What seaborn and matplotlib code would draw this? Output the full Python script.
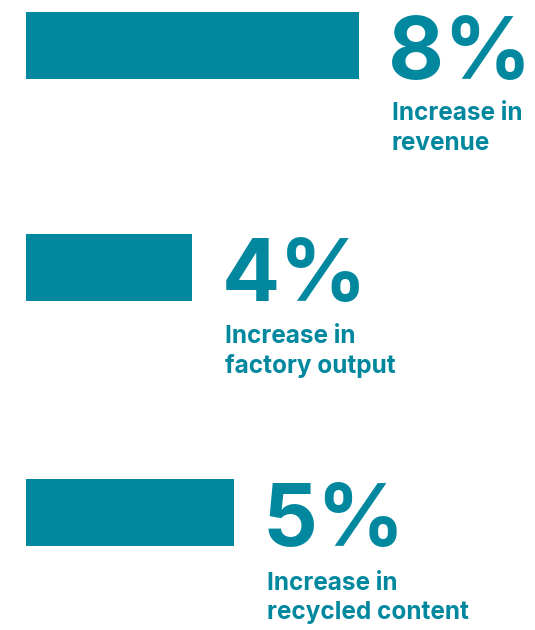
import matplotlib
matplotlib.use("Agg")
import matplotlib.pyplot as plt
import seaborn as sns

# Growth figures shown as horizontal bars with big value callouts
metrics = ["revenue", "factory output", "recycled content"]
values = [8, 4, 5]
caption_lines = [["Increase in", "revenue"],
                 ["Increase in", "factory output"],
                 ["Increase in", "recycled content"]]

TEAL = "#01889F"
W, H = 535, 630
DPI = 100
PT = 72 / DPI  # points per pixel

sns.set_theme(style="white")
plt.rcParams["font.family"] = ["Inter", "DejaVu Sans"]

fig = plt.figure(figsize=(W / DPI, H / DPI), dpi=DPI)
fig.patch.set_facecolor("white")

px_per_unit = 41.6          # horizontal scale, pixels per percentage point
left_px = 26
bar_h_px = 67
bar_tops_px = [12, 234, 479]  # vertical placement of each row
caption_gap_px = [41, 42, 44]

for metric, val, lines, top, gap in zip(metrics, values, caption_lines,
                                        bar_tops_px, caption_gap_px):
    ax = fig.add_axes([left_px / W, 1 - (top + bar_h_px) / H,
                       (W - left_px) / W, bar_h_px / H])
    sns.barplot(x=[val], y=[metric], orient="h", color=TEAL,
                saturation=1, width=1.0, ax=ax)
    ax.set_xlim(0, (W - left_px) / px_per_unit)
    ax.set_ylim(0.5, -0.5)
    ax.axis("off")
    for p in ax.patches:
        p.set_edgecolor("none")

    # big value, baseline at bar bottom
    ax.annotate(f"{val}%", xy=(val, 0.5), xycoords="data",
                xytext=(29 * PT, 0), textcoords="offset points",
                ha="left", va="baseline", fontsize=62, fontweight="bold",
                color=TEAL, annotation_clip=False)
    # two-line caption beneath the value
    for k, line in enumerate(lines):
        ax.annotate(line, xy=(val, 0.5), xycoords="data",
                    xytext=(33 * PT, -(gap + 29.5 * k) * PT),
                    textcoords="offset points",
                    ha="left", va="baseline", fontsize=17.5, fontweight="bold",
                    color=TEAL, annotation_clip=False)

fig.savefig("out.png", dpi=DPI, facecolor="white")
